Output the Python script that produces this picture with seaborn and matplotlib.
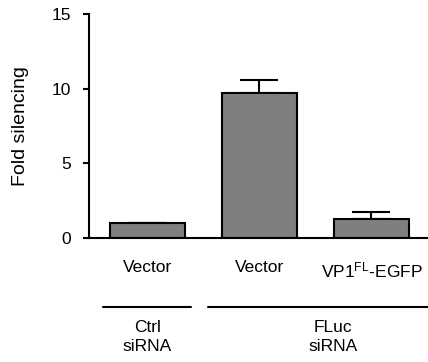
import matplotlib
matplotlib.use("Agg")
import matplotlib.pyplot as plt
import matplotlib.transforms as mtransforms
import seaborn as sns
import pandas as pd
import numpy as np

categories = ["Vector", "Vector ", r"VP1$^{\mathrm{FL}}$-EGFP"]
tick_labels = ["Vector", "Vector", r"VP1$^{\mathrm{FL}}$-EGFP"]
values = [1.0, 9.73, 1.25]
errors = [0.03, 0.85, 0.47]
group_labels = ["Ctrl\nsiRNA", "FLuc\nsiRNA"]

sns.set_style("white")
plt.rcParams["font.family"] = ["Liberation Sans", "DejaVu Sans"]
plt.rcParams["mathtext.fontset"] = "custom"
plt.rcParams["mathtext.rm"] = "Liberation Sans"
plt.rcParams["mathtext.it"] = "Liberation Sans:italic"
plt.rcParams["mathtext.bf"] = "Liberation Sans:bold"
for k in ["text.color", "axes.labelcolor", "xtick.color", "ytick.color"]:
    plt.rcParams[k] = "black"

FS = 12.5

df = pd.DataFrame({"cat": categories, "val": values})

fig = plt.figure(figsize=(4.28, 3.62), dpi=100)
ax = fig.add_axes([0.208, 0.3425, 0.792, 0.619])

sns.barplot(data=df, x="cat", y="val", ax=ax, color="#7f7f7f", saturation=1,
            width=0.67, edgecolor="black", linewidth=1.5, errorbar=None)

xs = np.arange(len(values))
ax.errorbar(xs, values, yerr=[np.zeros(len(errors)), errors], fmt="none",
            ecolor="black", elinewidth=1.5, capsize=14, capthick=1.5, zorder=0)

ax.set_xlim(-0.522, 2.505)
ax.set_ylim(0, 15)
ax.set_yticks([0, 5, 10, 15])
ax.set_xticks(xs)
ax.set_xticklabels(tick_labels, fontsize=FS)
ax.tick_params(axis="x", length=0, pad=16)
ax.tick_params(axis="y", length=4, width=1.5, direction="out", labelsize=FS, pad=9, left=True)
ax.set_xlabel("")
ax.set_ylabel("Fold silencing", fontsize=14, labelpad=16)
for s in ["top", "right"]:
    ax.spines[s].set_visible(False)
for s in ["left", "bottom"]:
    ax.spines[s].set_linewidth(1.5)
    ax.spines[s].set_color("black")

trans = mtransforms.blended_transform_factory(ax.transData, ax.transAxes)
line_y = -0.308
ax.plot([-0.397, 0.388], [line_y, line_y], color="black", lw=1.5, transform=trans, clip_on=False)
ax.plot([0.540, 2.6], [line_y, line_y], color="black", lw=1.5, transform=trans, clip_on=False)
ax.text(0, line_y - 0.058, group_labels[0], transform=trans, ha="center", va="top",
        fontsize=FS, linespacing=1.3)
ax.text(1.656, line_y - 0.058, group_labels[1], transform=trans, ha="center", va="top",
        fontsize=FS, linespacing=1.3)

fig.savefig("out.png", dpi=100)
